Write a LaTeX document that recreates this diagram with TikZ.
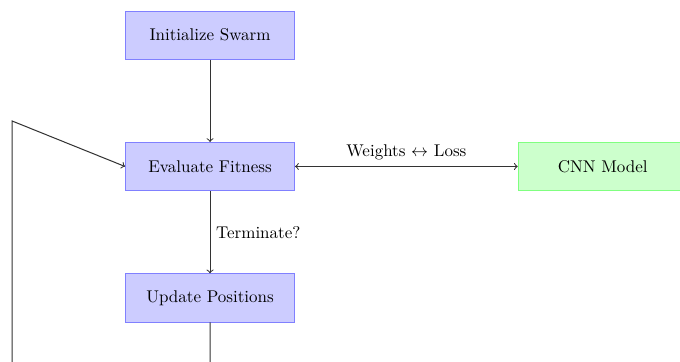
\documentclass[tikz,border=0pt]{standalone}
\usepackage{amsmath,amssymb}
\usepackage{tikz}
\usetikzlibrary{calc, positioning, arrows}
\tikzset{
	psobox/.style={draw=blue!50, fill=blue!20, rectangle, minimum width=3.5cm, minimum height=1cm},
	cnnbox/.style={draw=green!50, fill=green!20, rectangle, minimum width=3.5cm, minimum height=1cm},
	link/.style={semithick, draw=black!80}
}

\begin{document}
\begin{tikzpicture}
		
		% Frame
		\useasboundingbox (-4.34,-4.02) rectangle (9.71,3.44);
		\clip (-4.34,-4.02) rectangle (9.71,3.44);
		
		% Nodes
		\node[psobox] (evaluate) at (0,0) {Evaluate Fitness};
		\node[psobox, above=1.7cm of evaluate] (init) {Initialize Swarm};
		\node[psobox, below=1.7cm of evaluate] (update) {Update Positions};
		\node[cnnbox, right=4.6cm of evaluate] (cnn) {CNN Model};
		
		% Loop corners
		\coordinate (loopbottom) at ($(update.south)+(0,-1.5)$);
		\coordinate (loopleft) at (-4.09,-5.5);
		\coordinate (looptop) at (-4.09,0.94);
		
		% Arrows
		\draw[link, ->] (init) -- (evaluate);
		\draw[link, ->] (evaluate) -- node[right] {Terminate?} (update);
		\draw[link, <->] (evaluate) -- node[above] {Weights $\leftrightarrow$ Loss} (cnn);
		\draw[link, ->] (update.south) -- (loopbottom) -| (loopleft) -- (looptop) -- (evaluate.west);
		
	\end{tikzpicture}
\end{document}
